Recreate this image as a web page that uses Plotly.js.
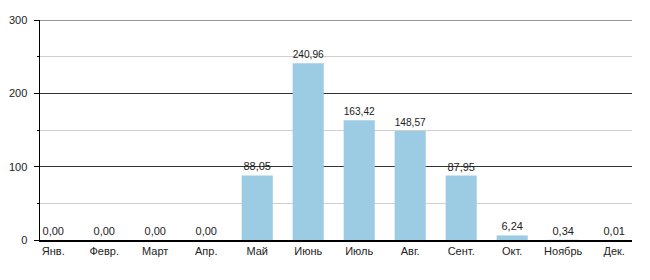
<!DOCTYPE html>
<html><head><meta charset="utf-8">
<script src="https://cdn.plot.ly/plotly-3.0.1.min.js"></script>
<style>html,body{margin:0;padding:0;background:#fff}#chart{width:650px;height:280px}</style>
</head><body><div id="chart"></div>
<script>
var months = ["Янв.","Февр.","Март","Апр.","Май","Июнь","Июль","Авг.","Сент.","Окт.","Ноябрь","Дек."];
var values = [0.00,0.00,0.00,0.00,88.05,240.96,163.42,148.57,87.95,6.24,0.34,0.01];
var yTicks = [0,100,200,300];

var labels = values.map(function(v){return v.toFixed(2).replace('.',',');});
var trace = {
  type:'bar', x:months, y:values, text:labels, textposition:'outside',
  cliponaxis:false, width:0.61,
  marker:{color:'#9ccbe4', line:{width:0}},
  textfont:{family:'Liberation Sans, Arial, sans-serif', size:11, color:'#222'},
  hoverinfo:'none'
};
var layout = {
  width:650, height:280,
  margin:{l:40, r:18, t:20, b:40},
  paper_bgcolor:'#fff', plot_bgcolor:'#fff',
  showlegend:false, bargap:0.39,
  font:{family:'Liberation Sans, Arial, sans-serif', size:11, color:'#222'},
  xaxis:{type:'category', range:[-0.26,11.35], showline:true, linecolor:'#000', linewidth:1.5,
         ticks:'', showgrid:false, zeroline:false, tickfont:{size:11, color:'#222'}},
  yaxis:{range:[0,300], tickvals:yTicks, ticktext:yTicks.map(String), showline:true, linecolor:'#000', linewidth:1.5,
         ticks:'outside', ticklen:5, tickcolor:'#000', showgrid:true, gridcolor:'#333', gridwidth:1,
         ticklabelstandoff:4,
         zeroline:false, tickfont:{size:11, color:'#222'},
         minor:{dtick:50, tick0:0, ticks:'outside', ticklen:2, tickcolor:'#000', showgrid:true, gridcolor:'#cfcfcf', gridwidth:1}},
  shapes:[{type:'line', xref:'paper', yref:'y', x0:0, x1:1, y0:300, y1:300, line:{color:'#333', width:1}}]
};
Plotly.newPlot('chart',[trace],layout,{staticPlot:true, displayModeBar:false});
</script></body></html>
